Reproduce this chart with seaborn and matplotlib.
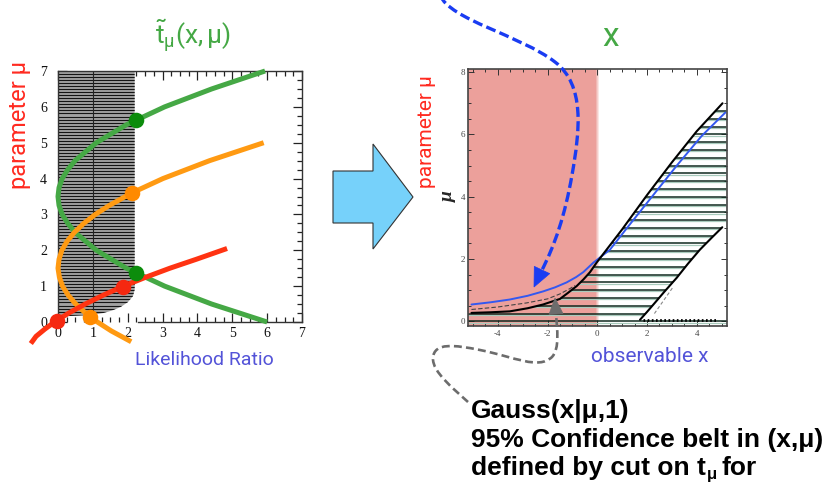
import numpy as np
import seaborn as sns
import matplotlib.pyplot as plt
from matplotlib.patches import Polygon, PathPatch
from matplotlib.path import Path
from matplotlib.transforms import Affine2D
from matplotlib.ticker import MultipleLocator

# ---------------- left panel: likelihood ratio t(mu) for three observations ----------------
green_mu = [0, 0.5, 1, 1.5, 2, 2.5, 2.75, 3, 3.25, 3.5, 3.75, 4, 4.25, 4.5, 5, 5.5, 6, 6.5, 7]
green_t = [6.0, 4.41, 3.06, 1.96, 1.10, 0.49, 0.28, 0.12, 0.03, 0.0, 0.03, 0.12, 0.28, 0.49,
           1.10, 1.96, 3.06, 4.41, 5.94]
orange_mu = [-0.55, -0.25, 0, 0.25, 0.5, 0.75, 1, 1.25, 1.5, 1.75, 2, 2.25, 2.5, 2.75, 3,
             3.25, 3.6, 4, 4.5, 5]
orange_t = [2.10, 1.53, 1.13, 0.79, 0.51, 0.29, 0.13, 0.04, 0.0, 0.03, 0.11, 0.26, 0.47,
            0.74, 1.07, 1.47, 2.12, 3.01, 4.35, 5.90]
red_mu = [-0.6, -0.4, -0.2, 0, 0.25, 0.5, 0.75, 1, 1.25, 1.5, 1.75, 2.05]
red_t = [-0.78, -0.63, -0.38, -0.10, 0.31, 0.78, 1.30, 1.88, 2.52, 3.21, 3.97, 4.85]

green_dot_t, green_dot_mu = [2.25, 2.25], [5.62, 1.36]
orange_dot_t, orange_dot_mu = [2.12, 0.93], [3.6, 0.15]
red_dot_t, red_dot_mu = [-0.03, 1.86], [0.04, 0.98]

# accepted region (t below the cut), outline in (t, mu)
shade_t = [0, 2.2, 2.2, 2.15, 2.0, 1.8, 1.55, 1.3, 1.0, 0]
shade_mu = [7, 7, 0.9, 0.72, 0.55, 0.42, 0.32, 0.25, 0.2, 0.15]

# ---------------- right panel: confidence belt in (x, mu) ----------------
upper_x = [-5.06, -4.3, -3.52, -2.8, -2.18, -1.5, -1.2, -0.83, -0.55, -0.29, -0.03,
           1.0, 2.0, 3.0, 4.0, 5.04]
upper_mu = [0.27, 0.29, 0.32, 0.42, 0.54, 0.72, 0.9, 1.13, 1.35, 1.58, 1.88,
            2.95, 4.05, 5.1, 6.1, 7.0]
lower_x = [1.72, 2.0, 2.26, 2.7, 3.2, 3.65, 4.13, 4.6, 5.03]
lower_mu = [0.05, 0.3, 0.54, 0.95, 1.4, 1.85, 2.3, 2.68, 3.02]
blue_x = [-5.06, -4.3, -3.52, -2.8, -2.18, -1.7, -1.23, -0.85, -0.56, -0.16, 0.51, 1.2,
          2.2, 3.2, 4.2, 5.15]
blue_mu = [0.54, 0.61, 0.70, 0.82, 0.96, 1.09, 1.25, 1.42, 1.58, 1.88, 2.3, 3.0,
           4.0, 5.0, 5.95, 6.7]
dash_x = [-5.06, -4.0, -2.85, -2.0, -1.5, -1.1, -0.9]
dash_mu = [0.38, 0.46, 0.59, 0.72, 0.88, 1.05, 1.15]
side_dash_x, side_dash_mu = [2.3, 3.05], [0.25, 1.1]
floor_x, floor_mu = [1.85, 4.85], [0.05, 0.05]

sns.set_theme(style="ticks")
plt.rcParams["font.family"] = ["Roboto", "DejaVu Sans"]
plt.rcParams["mathtext.fontset"] = "custom"
plt.rcParams["mathtext.rm"] = "Roboto"
plt.rcParams["mathtext.it"] = "Roboto"
plt.rcParams["axes.unicode_minus"] = False

W, H = 831, 491
fig = plt.figure(figsize=(W / 100, H / 100), dpi=100)
fig.patch.set_facecolor("white")
PX = Affine2D().scale(1, -1).translate(0, H)   # pixel coordinates, origin top-left


def box(l, t, r, b):
    return [l / W, 1 - b / H, (r - l) / W, (b - t) / H]


# ======================= left panel =======================
axL = fig.add_axes(box(58, 71, 302, 322))
axL.set_xlim(0, 7)
axL.set_ylim(0, 7)

shade = Polygon(np.column_stack([shade_t, shade_mu]), closed=True,
                facecolor="#a2a2a2", edgecolor="none", zorder=1)
axL.add_patch(shade)
stripes = axL.hlines(np.arange(0.12, 7.0, 0.085), 0, 2.3, colors="#151515",
                     linewidth=0.8, zorder=1.2)
stripes.set_clip_path(shade)
axL.plot([1, 1], [0.2, 7], color="#222222", lw=0.8, zorder=1.3)

line_kw = dict(sort=False, estimator=None, linewidth=3.6, clip_on=False,
               solid_capstyle="butt", ax=axL)
sns.lineplot(x=green_t, y=green_mu, color="#45a845", zorder=3, **line_kw)
sns.lineplot(x=orange_t, y=orange_mu, color="#ff9a12", zorder=3.1, **line_kw)
sns.lineplot(x=red_t, y=red_mu, color="#ff3312", zorder=3.2, **line_kw)

dot_kw = dict(s=125, linewidth=0, clip_on=False, zorder=4, ax=axL)
sns.scatterplot(x=green_dot_t, y=green_dot_mu, color="#0c8c0c", **dot_kw)
sns.scatterplot(x=orange_dot_t, y=orange_dot_mu, color="#ff8a00", **dot_kw)
sns.scatterplot(x=red_dot_t, y=red_dot_mu, color="#f52810", **dot_kw)

axL.xaxis.set_major_locator(MultipleLocator(1))
axL.xaxis.set_minor_locator(MultipleLocator(0.25))
axL.yaxis.set_major_locator(MultipleLocator(1))
axL.yaxis.set_minor_locator(MultipleLocator(0.25))
axL.tick_params(which="both", direction="in", top=True, right=True,
                color="#222222", width=0.9, labelfontfamily="Liberation Serif",
                labelsize=10, labelcolor="#111111")
axL.tick_params(which="major", length=6.5)
axL.tick_params(which="minor", length=3.5)
axL.tick_params(axis="x", pad=3.5)
axL.tick_params(axis="y", pad=8)
for s in axL.spines.values():
    s.set_color("#333333")
    s.set_linewidth(1.0)
axL.spines["bottom"].set_bounds(2.3, 7)
axL.set_xlabel("")
axL.set_ylabel("")

# ======================= right panel =======================
axR = fig.add_axes(box(468, 69, 726.5, 326))
axR.set_xlim(-5.2, 5.2)
axR.set_ylim(-0.15, 8.1)

axR.axvspan(-5.2, -0.06, color="#eca09b", lw=0, zorder=0)
for i, a in enumerate([0.75, 0.5, 0.25]):
    axR.axvspan(-0.06 + 0.04 * i, -0.02 + 0.04 * i, color="#eca09b", alpha=a, lw=0, zorder=0)

belt_x = [-5.2] + upper_x + [5.2, 5.2] + lower_x[::-1] + [-5.2]
belt_mu = [0.26] + upper_mu + [7.0, 3.16] + lower_mu[::-1] + [0.05]
belt = Polygon(np.column_stack([belt_x, belt_mu]), closed=True,
               facecolor="none", edgecolor="none")
axR.add_patch(belt)
levels = np.arange(0.25, 6.9, 0.25)
glow = axR.hlines(levels - 0.04, -5.2, 5.2, colors="#a8cbbd", linewidth=0.9, zorder=1.9)
glow.set_clip_path(belt)
hatch = axR.hlines(levels, -5.2, 5.2, colors="#10291f", linewidth=1.1, zorder=2)
hatch.set_clip_path(belt)
axR.hlines(0, -5.2, 5.2, colors="#10291f", linewidth=1.1, zorder=2)
axR.hlines(-0.04, -5.2, 5.2, colors="#a8cbbd", linewidth=0.9, zorder=1.9)

bl_kw = dict(sort=False, estimator=None, ax=axR)
sns.lineplot(x=blue_x, y=blue_mu, color="#3358f0", linewidth=1.4, zorder=3, **bl_kw)
sns.lineplot(x=upper_x, y=upper_mu, color="black", linewidth=1.5, zorder=3.2, **bl_kw)
sns.lineplot(x=lower_x, y=lower_mu, color="black", linewidth=1.5, zorder=3.2, **bl_kw)
sns.lineplot(x=dash_x, y=dash_mu, color="#444444", linewidth=0.8, linestyle=(0, (4, 2)),
             zorder=3, **bl_kw)
sns.lineplot(x=side_dash_x, y=side_dash_mu, color="#888888", linewidth=0.8,
             linestyle=(0, (3, 2)), zorder=3, **bl_kw)
sns.lineplot(x=floor_x, y=floor_mu, color="black", linewidth=2.0, linestyle=(0, (0.6, 0.9)),
             zorder=3.3, **bl_kw)

axR.xaxis.set_major_locator(MultipleLocator(2))
axR.xaxis.set_minor_locator(MultipleLocator(0.5))
axR.yaxis.set_major_locator(MultipleLocator(2))
axR.yaxis.set_minor_locator(MultipleLocator(0.5))
axR.tick_params(which="both", direction="in", top=True, right=True, color="#333333",
                width=0.7, labelfontfamily="Liberation Serif", labelsize=6.5,
                labelcolor="#444444")
axR.tick_params(which="major", length=4)
axR.tick_params(which="minor", length=2)
axR.tick_params(axis="x", pad=3)
axR.tick_params(axis="y", pad=2)
for s in axR.spines.values():
    s.set_color("#444444")
    s.set_linewidth(1.2)
axR.set_xlabel("")
axR.set_ylabel("")

# ======================= annotations =======================
plain = dict(fontweight="normal", transform=PX, ha="center", va="center")
fig.text(193, 36, r"$\tilde{\rm t}_{\rm \mu}{\rm (x,\mu)}$", color="#45a845", fontsize=19, **plain)
fig.text(611, 37, "x", color="#45a845", fontsize=24, **plain)
fig.text(20, 125, "parameter μ", color="#ff2a20", fontsize=17, rotation=90, **plain)
fig.text(427, 132, "parameter μ", color="#ff2a20", fontsize=15, rotation=90, **plain)
fig.text(204, 360, "Likelihood Ratio", color="#5353d8", fontsize=14, **plain)
fig.text(650, 357, "observable x", color="#5353d8", fontsize=15, **plain)
fig.text(448, 197, "μ", fontsize=14, fontweight="bold", fontstyle="italic",
         family="Liberation Serif", rotation=90, ha="center", va="center", transform=PX)

# block arrow between the panels
arrow_pts = [(333, 171), (373, 171), (373, 144), (413, 197), (373, 249), (373, 223), (333, 223)]
fig.add_artist(Polygon(arrow_pts, closed=True, facecolor="#76d1fa", edgecolor="#333333",
                       linewidth=0.8, transform=PX))


def curved(points, color, lw, dashes):
    verts = [points[0]]
    codes = [Path.MOVETO]
    for seg in points[1:]:
        verts += list(seg)
        codes += [Path.CURVE4] * 3
    fig.add_artist(PathPatch(Path(verts, codes), fill=False, edgecolor=color, linewidth=lw,
                             linestyle=(0, dashes), capstyle="butt", transform=PX))


def head(base, tip, width, color):
    b, t = np.array(base, float), np.array(tip, float)
    d = (t - b) / np.linalg.norm(t - b)
    n = np.array([-d[1], d[0]])
    pts = [t, b + n * width / 2, b - n * width / 2]
    fig.add_artist(Polygon(pts, closed=True, facecolor=color, edgecolor=color,
                           linewidth=0.5, transform=PX))


blue = "#1a3cf2"
curved([(440, -5),
        ((450, 20), (520, 35), (555, 62)),
        ((585, 85), (580, 130), (572, 175)),
        ((565, 215), (555, 245), (541, 272))], blue, 2.4, (3.0, 1.3))
head((542, 270), (534, 287), 17, blue)

grey = "#6c6c6c"
curved([(468, 402),
        ((455, 390), (432, 372), (433, 358)),
        ((434, 342), (455, 345), (480, 350)),
        ((515, 357), (538, 370), (552, 357)),
        ((560, 348), (557, 330), (556, 313))], grey, 1.9, (3.0, 1.6))
head((556, 314), (555, 298), 14, grey)

# caption
bold = dict(fontsize=19, fontweight="bold", family=["Liberation Sans", "DejaVu Sans"],
            color="black", ha="left", va="baseline", transform=PX)
fig.text(471, 418, "Gauss(x|μ,1)", **bold)
fig.text(471, 447, "95% Confidence belt in (x,μ)", **bold)
t3 = fig.text(471, 475, "defined by cut on t", **bold)
renderer = fig.canvas.get_renderer()
x_end = t3.get_window_extent(renderer).x1
sub = dict(bold)
sub["fontsize"] = 12
m = fig.text(x_end + 1, 479, "μ", **sub)
x_end2 = m.get_window_extent(renderer).x1
fig.text(x_end2 + 4, 475, "for", **bold)

fig.savefig("out.png", dpi=100)
